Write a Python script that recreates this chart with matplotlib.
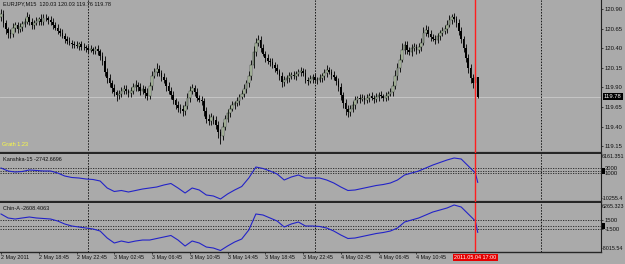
import numpy as np
import matplotlib.pyplot as plt

# EURJPY M15 candles, one value per bar (bar 0 = 2 May 14:45)
first_open = 120.80
closes = [
    120.84, 120.72, 120.64, 120.60, 120.58, 120.66, 120.70, 120.64, 120.67, 120.71,
    120.74, 120.80, 120.74, 120.69, 120.72, 120.75, 120.77, 120.74, 120.79, 120.78,
    120.76, 120.74, 120.70, 120.66, 120.62, 120.60, 120.56, 120.52, 120.49, 120.47,
    120.45, 120.44, 120.43, 120.45, 120.42, 120.41, 120.40, 120.38, 120.39, 120.37,
    120.39, 120.36, 120.30, 120.24, 120.10, 120.02, 119.95, 119.89, 119.84, 119.80,
    119.82, 119.86, 119.88, 119.85, 119.83, 119.86, 119.90, 119.93, 119.90, 119.86,
    119.88, 119.83, 119.79, 119.92, 120.05, 120.10, 120.14, 120.08, 120.03, 120.00,
    119.92, 119.86, 119.80, 119.74, 119.68, 119.64, 119.62, 119.60, 119.66, 119.76,
    119.86, 119.89, 119.84, 119.77, 119.74, 119.72, 119.60, 119.50, 119.47, 119.52,
    119.49, 119.42, 119.33, 119.28, 119.40, 119.50, 119.57, 119.63, 119.67, 119.70,
    119.73, 119.78, 119.82, 119.88, 119.95, 120.05, 120.18, 120.35, 120.47, 120.50,
    120.40, 120.33, 120.27, 120.24, 120.22, 120.18, 120.15, 120.11, 120.04, 119.97,
    119.99, 120.02, 120.04, 120.06, 120.05, 120.07, 120.09, 120.11, 120.08, 120.00,
    119.98, 120.01, 120.03, 119.99, 120.00, 120.02, 120.04, 120.08, 120.12, 120.10,
    120.06, 120.03, 119.98, 119.90, 119.80, 119.70, 119.62, 119.58, 119.63, 119.68,
    119.74, 119.76, 119.75, 119.77, 119.74, 119.76, 119.79, 119.77, 119.75, 119.78,
    119.80, 119.79, 119.77, 119.79, 119.82, 119.84, 119.92, 120.05, 120.15, 120.25,
    120.38, 120.44, 120.38, 120.35, 120.40, 120.42, 120.38, 120.42, 120.47, 120.60,
    120.63, 120.58, 120.54, 120.52, 120.50, 120.55, 120.59, 120.62, 120.64, 120.70,
    120.76, 120.80, 120.77, 120.72, 120.62, 120.52, 120.40, 120.28, 120.15, 120.02,
    119.95, 120.03, 119.78,
]
# wick lengths in pips above / below the body
hi_wick = [
    6, 5, 4, 3, 5, 6, 4, 3, 5, 4, 5, 6, 3, 5, 4, 5, 3, 6, 4, 5,
    3, 5, 4, 3, 5, 4, 5, 3, 4, 5, 3, 4, 5, 3, 4, 5, 3, 4, 5, 3,
    4, 5, 3, 5, 6, 5, 5, 4, 5, 3, 5, 4, 5, 5, 3, 5, 5, 6, 4, 5,
    5, 4, 6, 5, 6, 5, 7, 5, 4, 5, 3, 5, 4, 5, 3, 4, 5, 5, 6, 7,
    6, 5, 4, 5, 3, 5, 4, 5, 6, 5, 3, 4, 5, 4, 6, 5, 5, 4, 5, 3,
    5, 4, 5, 6, 5, 6, 7, 8, 6, 7, 5, 5, 4, 5, 3, 5, 4, 5, 3, 5,
    5, 4, 5, 3, 5, 4, 5, 5, 4, 5, 3, 5, 4, 5, 3, 5, 4, 5, 6, 4,
    4, 5, 3, 4, 5, 4, 5, 6, 5, 4, 5, 3, 5, 4, 3, 5, 4, 5, 3, 5,
    4, 5, 3, 5, 4, 5, 6, 7, 6, 7, 8, 5, 5, 4, 5, 5, 3, 5, 6, 7,
    6, 5, 5, 4, 5, 5, 4, 5, 5, 6, 6, 4, 5, 4, 5, 5, 4, 5, 4, 5,
    5, 4, 0,
]
lo_wick = [
    5, 5, 6, 7, 5, 4, 5, 5, 3, 5, 4, 3, 5, 4, 5, 3, 5, 4, 5, 3,
    5, 4, 5, 3, 4, 5, 3, 5, 4, 3, 5, 4, 3, 5, 4, 3, 5, 4, 3, 5,
    4, 5, 5, 6, 5, 6, 5, 6, 5, 7, 5, 4, 5, 3, 5, 5, 4, 5, 5, 6,
    5, 6, 5, 4, 5, 3, 5, 4, 5, 5, 6, 5, 5, 5, 6, 5, 5, 6, 5, 4,
    5, 4, 5, 5, 3, 5, 6, 5, 5, 5, 6, 5, 7, 10, 5, 5, 4, 5, 3, 5,
    4, 5, 3, 4, 5, 4, 5, 3, 5, 4, 5, 3, 5, 4, 5, 3, 5, 4, 5, 6,
    5, 4, 5, 3, 4, 5, 3, 5, 4, 5, 5, 3, 5, 4, 5, 3, 5, 4, 5, 3,
    5, 4, 5, 5, 6, 6, 7, 6, 5, 5, 5, 4, 5, 3, 5, 4, 5, 3, 5, 4,
    5, 3, 5, 4, 5, 3, 5, 4, 5, 5, 3, 5, 5, 4, 5, 3, 5, 4, 5, 3,
    5, 4, 5, 3, 5, 4, 5, 3, 4, 5, 3, 5, 4, 5, 5, 6, 5, 6, 7, 6,
    6, 5, 2,
]

# indicator windows, sampled every third bar plus the last bar
ind_bars = list(range(0, 202, 3)) + [202]
kanshka = [
    3000, 1800, 1400, 1600, 2200, 2000, 1800, 1800, 1000, -200,
    -800, -1000, -1400, -1600, -2200, -5000, -6400, -6000, -6600, -6000,
    -5400, -5000, -4600, -3800, -3200, -5000, -7000, -5000, -5800, -7800,
    -8200, -9400, -7400, -5800, -4400, -1000, 3400, 2800, 1800, 600,
    -1800, -600, 200, -1000, -1000, -1000, -1800, -3000, -4600, -6000,
    -5800, -5200, -4600, -4000, -3600, -3000, -1800, 200, 1000, 1800,
    3000, 4200, 5200, 6200, 7000, 6600, 3800, 1000, -2742.67,
]
chin = [
    3500, 2170, 1830, 2170, 2500, 2170, 2000, 1830, 1170, 170,
    -500, -830, -1170, -1500, -2170, -4500, -6160, -5500, -6000, -5500,
    -5170, -5170, -4660, -4160, -3660, -5170, -7160, -5500, -6160, -7500,
    -7830, -8660, -7160, -5830, -4830, -1830, 3500, 3170, 2170, 1170,
    -830, 170, 830, -500, -500, -660, -1170, -2170, -3500, -4660,
    -4500, -4000, -3500, -3000, -2660, -2170, -1170, 830, 1500, 2170,
    3170, 4170, 4830, 5500, 6500, 5830, 3500, 1170, -2608.41,
]

price_ticks = [120.90, 120.65, 120.40, 120.15, 119.90, 119.65, 119.40, 119.15]
kan_levels = [3000, 2000, 1000]
chin_levels = [1500, -500, -1500]
time_bars = [0, 16, 32, 48, 64, 80, 96, 112, 128, 144, 160, 176]
time_labels = ["2 May 2011", "2 May 18:45", "2 May 22:45", "3 May 02:45",
               "3 May 06:45", "3 May 10:45", "3 May 14:45", "3 May 18:45",
               "3 May 22:45", "4 May 02:45", "4 May 06:45", "4 May 10:45"]
day_breaks = [37, 133, 229]
cursor_bar = 201

W, H = 625, 264
BG = '#aaaaaa'
plt.rcParams['font.family'] = ['Liberation Sans', 'DejaVu Sans']

fig = plt.figure(figsize=(W / 100, H / 100), dpi=100)
fig.patch.set_facecolor(BG)


def px_box(top, bottom, left=0, right=601):
    return [left / W, 1 - bottom / H, (right - left) / W, (bottom - top) / H]


def ptext(x, y, s, **kw):
    kw.setdefault('fontsize', 4.0)
    kw.setdefault('va', 'center')
    return fig.text(x / W, 1 - y / H, s, **kw)


ax1 = fig.add_axes(px_box(0, 152.5))
ax2 = fig.add_axes(px_box(153.5, 201.5), sharex=ax1)
ax3 = fig.add_axes(px_box(202.5, 252), sharex=ax1)

for ax in (ax1, ax2, ax3):
    ax.set_facecolor(BG)
    ax.spines['left'].set_visible(False)
    ax.spines['top'].set_visible(False)
    ax.spines['right'].set_color('#202020')
    ax.spines['right'].set_linewidth(0.8)
    ax.spines['bottom'].set_color('#262626')
    ax.spines['bottom'].set_linewidth(1.6)
    ax.yaxis.tick_right()
    ax.tick_params(axis='y', direction='out', length=1.5, width=0.5,
                   labelsize=4.2, pad=1.2, colors='#101010')
    for b in day_breaks:
        ax.axvline(b, color='#151515', ls=(0, (1.5, 1.5)), lw=0.7)
    ax.axvline(cursor_bar, color='#ff1e1e', lw=1.0, zorder=6)
ax3.spines['bottom'].set_linewidth(1.0)

ax1.tick_params(axis='x', bottom=False, labelbottom=False)
ax2.tick_params(axis='x', bottom=False, labelbottom=False)

# candles
c = np.array(closes)
o = np.r_[first_open, c[:-1]]
o[-1] = 120.03
hi = np.maximum(o, c) + np.array(hi_wick) * 0.01
lo = np.minimum(o, c) - np.array(lo_wick) * 0.01
idx = np.arange(len(c))
up = c >= o
ax1.vlines(idx, lo, hi, color='#141414', lw=0.7, zorder=2)
body = np.where(np.abs(c - o) < 0.006, 0.006, np.abs(c - o))
ax1.bar(idx[up], body[up], bottom=o[up], width=0.7, color='#c3d1b5',
        edgecolor='#2c382c', lw=0.35, zorder=3)
ax1.bar(idx[~up], body[~up], bottom=c[~up], width=0.7, color='#000000',
        lw=0, zorder=3)
ax1.axhline(c[-1], color='#cacaca', lw=0.6, zorder=1)

ax1.set_xlim(-1 / 2.36, 600 / 2.36)
ax1.set_ylim(119.069, 121.015)
ax1.set_yticks(price_ticks)
ax1.set_yticklabels([f"{p:.2f}" for p in price_ticks])

# indicator windows
ax2.plot(ind_bars, kanshka, color='#2323c8', lw=0.8, zorder=4)
for v in kan_levels:
    ax2.axhline(v, color='#202020', ls=(0, (1.5, 1.5)), lw=0.6)
ax2.set_ylim(-10400, 8800)
ax2.set_yticks([kan_levels[0], kan_levels[2]])
ax2.set_yticklabels([str(kan_levels[0]), str(kan_levels[2])])

ax3.plot(ind_bars, chin, color='#2323c8', lw=0.8, zorder=4)
for v in chin_levels:
    ax3.axhline(v, color='#202020', ls=(0, (1.5, 1.5)), lw=0.6)
ax3.set_ylim(-9156, 7328)
ax3.set_yticks([chin_levels[0], chin_levels[2]])
ax3.set_yticklabels([str(chin_levels[0]), str(chin_levels[2])])

ax3.set_xticks(time_bars)
ax3.set_xticklabels(time_labels, ha='left')
ax3.tick_params(axis='x', direction='out', length=1.5, width=0.5,
                labelsize=3.9, pad=0.8, colors='#101010')

# window captions and scale labels
ptext(3, 4, "EURJPY,M15  120.03 120.03 119.76 119.78", color='#101010')
ptext(2, 144.5, "Grath 1.23", color='#ffff40')
ptext(3, 159.5, "Kanshka-15 -2742.6696", color='#101010')
ptext(3, 208.5, "Chin-A -2608.4063", color='#101010')

ptext(602, 156, "6161.351", fontsize=3.9, color='#101010')
ptext(602, 198.5, "-10255.4", fontsize=3.9, color='#101010')
ptext(602, 206, "6265.323", fontsize=3.9, color='#101010')
ptext(602, 249, "-8015.54", fontsize=3.9, color='#101010')

ptext(604, 96.5, f"{closes[-1]:.2f}", fontsize=4.2, color='white',
      bbox=dict(facecolor='black', edgecolor='none', pad=0.8))
ptext(603, 170.8, " ", fontsize=3.0,
      bbox=dict(facecolor='black', edgecolor='none', pad=0.9))
ptext(603, 226, " ", fontsize=3.0,
      bbox=dict(facecolor='black', edgecolor='none', pad=0.9))

ptext(475.4, 257.5, "2011.05.04 17:00", fontsize=3.9, color='white',
      ha='center', bbox=dict(facecolor='#e60000', edgecolor='none', pad=1.0),
      zorder=10)

fig.savefig('out.png', dpi=100, facecolor=BG)
